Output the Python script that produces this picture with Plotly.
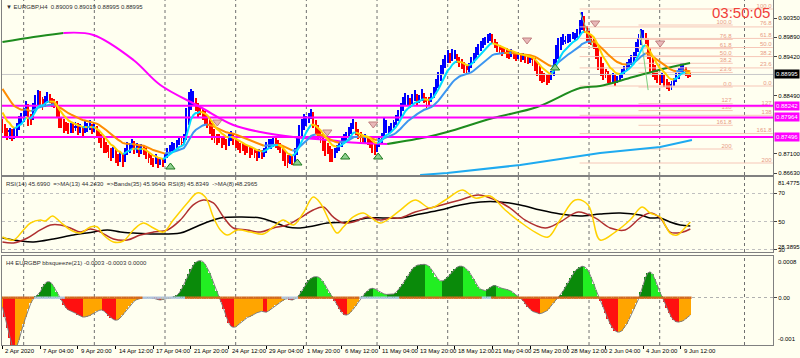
import plotly.graph_objects as go
from plotly.subplots import make_subplots

# ---------------- data ----------------
closes = [
 0.8771,0.87614,0.87518,0.87662,0.8747,0.87566,0.87782,0.8795,0.87902,0.88142,
 0.88262,0.87854,0.8795,0.88262,0.8843,0.88574,0.88382,0.88262,0.8843,0.88502,
 0.88382,0.8831,0.88334,0.88022,0.87782,0.87854,0.8771,0.87782,0.87662,0.87734,
 0.8771,0.87758,0.87662,0.8771,0.87614,0.87758,0.8771,0.87782,0.87686,0.87734,
 0.8759,0.8747,0.87374,0.8723,0.87278,0.87134,0.87062,0.87182,0.8699,0.86942,
 0.87062,0.86894,0.87182,0.87302,0.8723,0.87374,0.87182,0.87278,0.87134,0.87254,
 0.87182,0.87062,0.8699,0.86942,0.86894,0.8699,0.8687,0.86942,0.86894,0.87062,
 0.87182,0.8723,0.87302,0.87254,0.87374,0.87422,0.8735,0.8747,0.88142,0.88502,
 0.88574,0.88382,0.88262,0.88094,0.8819,0.88022,0.8795,0.87854,0.8771,0.87542,
 0.8747,0.87422,0.87494,0.8735,0.87422,0.87302,0.8747,0.87542,0.87422,0.8735,
 0.87302,0.8723,0.87278,0.87182,0.8723,0.87134,0.87182,0.8711,0.87062,0.87134,
 0.87062,0.87182,0.87302,0.87374,0.87302,0.87422,0.8735,0.87302,0.8723,0.87062,
 0.86942,0.8687,0.8699,0.86942,0.87182,0.87422,0.8771,0.87854,0.8795,0.87902,
 0.88022,0.88094,0.87782,0.87662,0.87542,0.8747,0.87302,0.87182,0.8723,0.87134,
 0.87062,0.87182,0.8723,0.87302,0.87422,0.8747,0.87542,0.87662,0.87782,0.87854,
 0.87614,0.87542,0.8747,0.87422,0.87494,0.87422,0.8735,0.8723,0.87182,0.87302,
 0.87422,0.87542,0.87782,0.8771,0.87662,0.87782,0.87854,0.8795,0.88094,0.88262,
 0.88382,0.88454,0.88382,0.88334,0.8843,0.88502,0.88382,0.8843,0.88526,0.8843,
 0.88334,0.88382,0.88478,0.88622,0.88814,0.88982,0.8915,0.89294,0.8939,0.89462,
 0.89342,0.89534,0.89462,0.8939,0.89294,0.89222,0.8915,0.89102,0.89198,0.89342,
 0.89462,0.89582,0.8963,0.89726,0.89774,0.89822,0.8987,0.89918,0.89822,0.89702,
 0.8963,0.89582,0.89534,0.89582,0.8951,0.89462,0.89534,0.89462,0.89414,0.89462,
 0.8939,0.89438,0.8939,0.89342,0.8939,0.89342,0.89222,0.89102,0.88982,0.8891,
 0.88958,0.88862,0.8891,0.88982,0.89294,0.8963,0.89774,0.89822,0.8987,0.89822,
 0.89894,0.8987,0.89942,0.89918,0.8999,0.90182,0.90302,0.9011,0.89942,0.8987,
 0.89822,0.89702,0.89462,0.89222,0.89102,0.88982,0.89054,0.8891,0.88862,0.88958,
 0.88814,0.8891,0.88982,0.89054,0.8915,0.89222,0.89294,0.8939,0.89462,0.89702,
 0.8987,0.90014,0.89942,0.89822,0.89462,0.8915,0.89054,0.88982,0.8891,0.88862,
 0.88958,0.88814,0.88742,0.8867,0.88766,0.88862,0.88982,0.89102,0.89222,0.8915,
 0.89054,0.89006,0.88995]

# bar highs / lows in units of 0.0001
highs_e4 = [
 8792,8780,8770,8772,8768,8770,8784,8800,8806,8818, 8835,8828,8805,8832,8850,8862,8860,8845,8848,8858,
 8852,8842,8840,8836,8806,8795,8790,8786,8782,8784, 8784,8786,8782,8780,8776,8788,8784,8790,8780,8784,
 8776,8762,8752,8740,8738,8730,8718,8726,8720,8706, 8714,8708,8724,8738,8734,8744,8740,8734,8730,8732,
 8730,8722,8712,8706,8700,8708,8702,8700,8698,8712, 8724,8730,8738,8736,8742,8750,8746,8756,8820,8858,
 8864,8860,8842,8830,8826,8820,8808,8800,8790,8774, 8760,8752,8756,8752,8750,8745,8756,8764,8758,8748,
 8742,8736,8736,8732,8730,8726,8726,8722,8716,8720, 8718,8724,8738,8745,8744,8750,8748,8742,8736,8726,
 8710,8700,8706,8704,8724,8748,8778,8792,8804,8800, 8808,8816,8810,8784,8772,8762,8752,8736,8734,8728,
 8718,8724,8730,8738,8748,8756,8762,8774,8784,8792, 8786,8766,8758,8752,8756,8752,8748,8740,8730,8736,
 8746,8760,8796,8790,8776,8784,8790,8802,8814,8832, 8846,8856,8850,8842,8852,8862,8852,8850,8864,8856,
 8845,8846,8856,8870,8888,8906,8922,8936,8946,8958, 8950,8960,8958,8948,8940,8932,8926,8920,8926,8942,
 8952,8966,8972,8980,8986,8990,8996,9000,8996,8984, 8976,8968,8966,8966,8962,8956,8960,8956,8952,8954,
 8952,8950,8948,8944,8946,8942,8938,8926,8914,8904, 8904,8898,8900,8908,8936,8970,8986,8990,8996,8992,
 8996,8996,9002,9000,9008,9030,9049,9040,9012,8998, 8994,8986,8974,8950,8928,8914,8912,8906,8898,8902,
 8898,8896,8904,8912,8920,8930,8936,8946,8954,8978, 8996,9008,9006,8998,8986,8950,8920,8912,8904,8898,
 8902,8898,8886,8878,8884,8892,8904,8916,8928,8926, 8918,8910,8904]
lows_e4 = [
 8758,8750,8742,8745,8740,8744,8752,8770,8778,8786, 8806,8776,8778,8790,8818,8836,8826,8815,8822,8832,
 8830,8822,8820,8795,8770,8770,8760,8765,8756,8760, 8760,8764,8755,8760,8752,8758,8762,8766,8756,8762,
 8748,8736,8722,8710,8712,8700,8692,8700,8686,8680, 8690,8678,8690,8712,8710,8720,8708,8712,8702,8708,
 8706,8696,8688,8682,8678,8684,8676,8682,8678,8686, 8700,8710,8716,8716,8722,8730,8726,8732,8742,8808,
 8840,8826,8812,8798,8802,8790,8780,8770,8756,8742, 8735,8730,8736,8724,8730,8718,8728,8740,8730,8722,
 8718,8712,8716,8706,8710,8700,8706,8698,8692,8700, 8696,8702,8712,8722,8720,8726,8724,8718,8710,8692,
 8680,8674,8684,8682,8690,8714,8738,8764,8778,8776, 8784,8792,8770,8756,8742,8734,8716,8704,8708,8690,
 8690,8700,8710,8716,8726,8736,8740,8750,8760,8770, 8754,8744,8736,8732,8736,8730,8724,8712,8706,8714,
 8726,8738,8748,8760,8756,8762,8772,8780,8792,8806, 8822,8832,8826,8820,8828,8836,8826,8830,8836,8830,
 8820,8826,8834,8846,8858,8878,8894,8910,8924,8932, 8926,8932,8936,8928,8918,8912,8904,8898,8906,8916,
 8928,8940,8950,8958,8964,8970,8974,8980,8974,8962, 8954,8950,8944,8948,8940,8936,8942,8936,8932,8936,
 8930,8934,8928,8924,8928,8920,8908,8896,8884,8878, 8882,8874,8880,8886,8896,8928,8960,8970,8974,8972,
 8976,8978,8984,8982,8986,8996,9014,9000,8980,8972, 8970,8960,8936,8910,8896,8886,8892,8880,8876,8882,
 8872,8878,8886,8892,8900,8910,8916,8926,8934,8942, 8964,8980,8984,8972,8936,8906,8894,8886,8880,8874,
 8878,8870,8864,8860,8862,8872,8884,8896,8906,8902, 8896,8892,8894]

ha_open_seed = 0.8790
fast_seed = 0.8819
slow_seed = 0.88742
fast_period = 8
slow_period = 21

bbsq_e4 = [
 -2,-4,-6.5,-8.5,-10,-11,-10.5,-9,-7,-5.5,-4,-2.5,-1.2,-0.3,
 0.2,0.5,1.2,2.2,3.0,3.4,3.4,3.0,2.2,1.2,0.4,
 -0.5,-1.5,-2.2,-2.6,-2.8,-3.0,-3.3,-3.6,-3.9,-4.1,-4.1,-4.0,-3.8,-3.5,-3.2,-2.9,-2.7,-2.6,
 -2.8,-3.3,-3.8,-4.3,-4.6,-4.8,-4.7,-4.3,-3.7,-3.0,-2.3,-1.7,-1.1,-0.7,-0.4,-0.2,-0.1,0,
 0.05,0.05,0,-0.1,-0.3,-0.4,-0.5,-0.4,-0.3,-0.2,-0.1,0,0.2,0.5,
 1.0,1.8,2.8,3.9,5.0,6.0,6.9,7.5,7.8,7.9,7.7,7.2,6.4,5.3,4.0,2.7,1.4,0.4,
 -1.0,-2.5,-4.0,-5.3,-6.1,-6.3,-6.2,-5.8,-5.3,-4.9,-4.5,-4.2,-4.0,-3.8,-3.5,-3.2,-3.0,-2.9,
 -3.0,-3.1,-2.8,-2.4,-2.0,-1.6,-1.3,-1.0,-0.6,-0.3,
 -0.2,-0.4,-0.5,-0.3,0,
 0.6,1.4,2.3,3.1,3.7,4.1,4.4,4.5,4.4,4.1,3.5,2.7,1.8,1.0,0.3,
 -0.6,-1.5,-2.4,-3.1,-3.6,-3.7,-3.5,-3.0,-2.4,-1.7,-1.0,-0.3,
 0.4,1.0,1.5,1.9,2.0,1.9,1.6,1.3,1.0,0.8,0.7,0.7,0.7,0.8,1.1,1.6,
 2.3,3.0,3.8,4.6,5.4,6.1,6.6,6.9,7.0,7.1,7.1,7.0,6.7,6.1,5.3,4.5,3.9,3.6,3.6,3.9,
 4.4,5.0,5.6,6.1,6.5,6.7,6.7,6.5,6.1,5.6,4.8,3.9,3.0,2.3,1.8,1.6,1.5,1.8,2.2,2.5,
 2.6,2.4,2.1,2.0,1.9,1.8,1.6,1.4,1.0,0.6,0.2,-0.1,
 -0.6,-1.3,-2.0,-2.5,-2.9,-3.1,-3.3,-3.4,-3.3,-3.1,-2.8,-2.3,-1.7,-1.1,-0.5,0,
 0.6,1.4,2.3,3.2,4.1,4.9,5.6,6.1,6.5,6.7,6.6,6.2,5.4,4.3,3.0,1.6,0.4,
 -0.8,-2.0,-3.3,-4.5,-5.6,-6.4,-7.0,-7.3,-7.3,-7.0,-6.4,-5.6,-4.6,-3.5,-2.3,-1.2,-0.3,
 1.2,2.8,4.3,5.3,5.5,5.0,4.0,2.7,1.3,0.2,
 -1.0,-2.2,-3.3,-4.2,-4.8,-5.1,-5.2,-5.1,-4.9,-4.5,-4.1,-3.7]

squeeze_start = [14, 60, 119, 152, 204]
squeeze_end = [26, 77, 125, 168, 207]

lma_i = [0,13.2,25.9,38.6,55.6,67.0,84.0,98.0,109.5,123.5,137.9,151.9,163.3,180.3,188.8,
         208.3,227.0,245.2,253.7,267.7,282.1,291.9]
lma_v = [0.89774,0.89894,0.8999,0.89942,0.89342,0.88742,0.88214,0.87782,0.87614,0.87494,
         0.87422,0.8735,0.87326,0.87494,0.87614,0.8795,0.88214,0.8867,0.88718,0.88934,0.8915,0.8927]

sky_i = [177.3,188.8,219.8,253.7,279.2,292.7]
sky_v = [0.86582,0.8663,0.86822,0.8711,0.87254,0.87422]

# thin zigzag legs (start/end bar, start/end price)
zz_i0 = [245.2, 270.7]
zz_i1 = [250.7, 274.1]
zz_p0 = [0.9049, 0.9006]
zz_p1 = [0.8965, 0.8862]

hlines = [0.88242, 0.87964, 0.87496]
bid_price = 0.88995

fib_levels = ["100.0","76.8","61.8","50.0","38.2","23.6","0.0","127","138","161.8","200"]
fib1_prices = [0.90182,0.89836,0.89613,0.89438,0.89263,0.89044,0.88694,0.88293,0.88128,0.87775,0.87206]
fib1_span = [270, 310]
fib2_prices = [0.90566,0.90136,0.8986,0.89642,0.89424,0.89152,0.88718,0.88219,0.88015,0.87576,0.8687]
fib2_span = [245, 327]

up_i = [71.3,125.2,145.5,159.5,234.6]
up_p = [0.86774,0.8687,0.87014,0.87014,0.8915]
dn_i = [91.2,137.9,157.4,222.7,251.6,279.2]
dn_p = [0.87854,0.87614,0.87806,0.89822,0.9023,0.8975]

yel_i = [0,4.7,8.9,11.9,16.1,18.2,21.2,24.6,28.8,33.1,37.3,40.3,42.9,47.1,51.3,55.6,59.8,64.1,
         68.3,72.5,78.5,82.7,86.1,89.5,92.5,95.5,99.7,105.2,110.7,115.0,119.2,123.5,127.7,131.9,
         134.9,139.2,142.1,144.7,148.9,153.2,156.1,160.4,164.6,168.9,175.2,181.6,188,195.2,200.7,
         207,213.4,219.8,226.1,231.6,236.7,243.1,248.6,253.7,260.1,266.4,271.5,274.9,279.2,281.3,
         283.4,286.4,288.9,292]
yel_v = [39.0,36.9,44.0,48.9,51.0,50.3,53.9,49.6,44.0,41.8,46.1,46.1,40.4,35.5,36.2,44.0,48.9,
         45.4,42.5,51.0,63.1,70.2,67.3,53.2,44.0,40.4,44.0,42.5,41.1,46.1,51.0,47.5,56.0,67.3,
         63.1,48.9,41.8,46.1,53.2,56.0,53.2,48.9,52.5,58.1,65.2,59.5,65.2,72.3,66.6,68.0,58.1,
         49.6,42.5,39.0,51.0,65.2,61.7,36.9,42.5,51.0,60.2,56.0,53.2,47.5,41.8,40.4,44.0,49.6]
red_i = [0,4.7,10.6,16.1,20.4,24.6,28.8,33.1,37.3,41.6,47.1,53.0,58.5,64.1,70.0,75.5,81.0,85.3,
         89.5,93.8,98.0,103.9,109.5,115.0,120.9,126.4,131.9,136.2,140.4,144.7,148.9,154.9,160.4,
         164.6,168.9,175.2,181.6,188,194.3,202,209.2,215.5,221.9,230.4,236.7,244.4,251.6,258,
         264.3,270.7,274.9,279.2,283.4,286.4,288.9,292]
red_v = [35.5,34.8,38.3,44.0,47.5,47.5,45.4,42.5,44.7,42.5,37.6,36.9,40.4,42.5,44.0,51.0,61.7,
         65.2,63.1,53.2,45.4,44.0,42.5,45.4,47.5,52.5,58.1,60.2,53.2,48.9,49.6,53.2,51.0,52.5,
         52.5,56.7,59.5,62.4,65.2,68.7,65.2,59.5,51.0,45.4,49.6,56.7,52.5,45.4,44.0,52.5,56.0,
         52.5,42.5,41.8,42.5,44.7]
blk_i = [0,7.6,13.2,21.6,30.1,38.6,44.5,50.1,55.6,64.1,75.5,81.0,87.0,92.5,101.0,109.5,115.0,
         120.9,126.4,131.9,137.9,146.4,154.9,161.6,168.9,177.3,185.8,194.3,202.8,211.3,219.8,
         228.3,236.7,245.2,253.7,262.2,270.7,274.9,279.2,283.4,287.7,292]
blk_v = [38.3,36.2,35.5,37.6,40.4,42.5,44.0,42.5,41.8,41.1,41.8,45.4,49.6,52.5,53.2,52.5,49.6,
         46.1,45.4,46.8,48.9,49.6,52.5,52.5,52.5,55.3,58.1,61.7,63.8,63.8,61.7,58.1,55.3,53.9,
         55.3,56.0,54.6,52.5,52.5,49.6,47.5,46.8]

date_labels = ["2 Apr 2020","7 Apr 04:00","9 Apr 20:00","14 Apr 12:00","17 Apr 04:00",
               "21 Apr 20:00","24 Apr 12:00","29 Apr 04:00","1 May 20:00","6 May 12:00",
               "11 May 04:00","13 May 20:00","18 May 12:00","21 May 04:00","25 May 20:00",
               "28 May 12:00","2 Jun 04:00","4 Jun 20:00","9 Jun 12:00"]
date_idx = [16 * k for k in range(len(date_labels))]
week_starts = [9, 39, 69, 99, 129, 159, 189, 219, 249, 279, 315]

price_ticks = [0.90350, 0.89890, 0.89420, 0.88490, 0.87100, 0.86630]

# ---------------- derived ----------------
n = len(closes)
idx = list(range(n))
highs = [h / 1e4 for h in highs_e4]
lows = [l / 1e4 for l in lows_e4]
ha_open = []
prev_o, prev_c = ha_open_seed, closes[0]
for i in range(n):
    o = ha_open_seed if i == 0 else (prev_o + prev_c) / 2
    ha_open.append(o)
    prev_o, prev_c = o, closes[i]

def ema(vals, period, seed):
    a = 2 / (period + 1)
    e = seed
    out = []
    for v in vals:
        e = e + a * (v - e)
        out.append(e)
    return out

fast = ema(closes, fast_period, fast_seed)
slow = ema(closes, slow_period, slow_seed)

BG = "#FFFFF0"
FONT = "Liberation Sans"

fig = make_subplots(rows=3, cols=1, shared_xaxes=True, vertical_spacing=0.01)

def colored_line(xs, ys, up_col, dn_col, width, row, shape="linear"):
    segs = {True: ([], []), False: ([], [])}
    run_dir = None
    run = []
    for k in range(1, len(xs)):
        d = ys[k] >= ys[k - 1]
        if d != run_dir:
            if run:
                segs[run_dir][0].extend([xs[j] for j in run] + [None])
                segs[run_dir][1].extend([ys[j] for j in run] + [None])
            run = [k - 1, k]
            run_dir = d
        else:
            run.append(k)
    if run:
        segs[run_dir][0].extend([xs[j] for j in run] + [None])
        segs[run_dir][1].extend([ys[j] for j in run] + [None])
    for d, col in ((True, up_col), (False, dn_col)):
        fig.add_trace(go.Scatter(x=segs[d][0], y=segs[d][1], mode="lines",
                                 line=dict(color=col, width=width, shape=shape),
                                 hoverinfo="skip"), row=row, col=1)

# fib lines
for prices, span in ((fib1_prices, fib1_span), (fib2_prices, fib2_span)):
    fx, fy = [], []
    for p in prices:
        fx += [span[0], span[1], None]
        fy += [p, p, None]
    fig.add_trace(go.Scatter(x=fx, y=fy, mode="lines", line=dict(color="#F6C7B8", width=1),
                             hoverinfo="skip"), row=1, col=1)
    fig.add_trace(go.Scatter(x=[span[1] - 0.5] * len(prices), y=prices, mode="text",
                             text=fib_levels, textposition="top left",
                             textfont=dict(family=FONT, size=6, color="#E89A84"),
                             hoverinfo="skip"), row=1, col=1)

# bid line
fig.add_trace(go.Scatter(x=[-1, 330], y=[bid_price, bid_price], mode="lines",
                         line=dict(color="#C8C8C8", width=1), hoverinfo="skip"), row=1, col=1)

# long MAs
colored_line(lma_i, lma_v, "#1E8C1E", "#FF00FF", 2, 1, "spline")
fig.add_trace(go.Scatter(x=sky_i, y=sky_v, mode="lines", line=dict(color="#1EAAF0", width=2),
                         hoverinfo="skip"), row=1, col=1)

# horizontal magenta lines
for p in hlines:
    fig.add_trace(go.Scatter(x=[-1, 330], y=[p, p], mode="lines",
                             line=dict(color="#FF00FF", width=2), hoverinfo="skip"), row=1, col=1)

# zigzag legs
zx, zy = [], []
for a, b, pa, pb in zip(zz_i0, zz_i1, zz_p0, zz_p1):
    zx += [a, b, None]
    zy += [pa, pb, None]
fig.add_trace(go.Scatter(x=zx, y=zy, mode="lines", line=dict(color="#7CCD7C", width=1),
                         hoverinfo="skip"), row=1, col=1)

# candles (Heiken-Ashi style): wick + body
ccol = ["#0000FF" if c >= o else "#FF0000" for o, c in zip(ha_open, closes)]
wlo = [min(l, o, c) for l, o, c in zip(lows, ha_open, closes)]
whi = [max(h, o, c) for h, o, c in zip(highs, ha_open, closes)]
fig.add_trace(go.Bar(x=idx, y=[h - l for h, l in zip(whi, wlo)], base=wlo,
                     marker=dict(color=ccol, line=dict(width=0)), width=0.4,
                     hoverinfo="skip"), row=1, col=1)
base = [min(o, c) for o, c in zip(ha_open, closes)]
hgt = [max(abs(c - o), 0.00012) for o, c in zip(ha_open, closes)]
fig.add_trace(go.Bar(x=idx, y=hgt, base=base, marker=dict(color=ccol, line=dict(width=0)),
                     width=0.85, hoverinfo="skip"), row=1, col=1)

# short MAs
colored_line(idx, slow, "#3C96F0", "#FF8C00", 2, 1)
colored_line(idx, fast, "#00DCFF", "#FFD000", 2, 1)

# arrows
fig.add_trace(go.Scatter(x=up_i, y=up_p, mode="markers",
                         marker=dict(symbol="triangle-up", size=8, color="#8FD08F",
                                     line=dict(color="#1E7A1E", width=1)),
                         hoverinfo="skip"), row=1, col=1)
fig.add_trace(go.Scatter(x=dn_i, y=dn_p, mode="markers",
                         marker=dict(symbol="triangle-down", size=8, color="#E8B8B8",
                                     line=dict(color="#C08080", width=1)),
                         hoverinfo="skip"), row=1, col=1)

# RSI panel
fig.add_trace(go.Scatter(x=blk_i, y=blk_v, mode="lines", line=dict(color="#000000", width=1.5, shape="spline"),
                         hoverinfo="skip"), row=2, col=1)
fig.add_trace(go.Scatter(x=red_i, y=red_v, mode="lines", line=dict(color="#B03030", width=1.5, shape="spline"),
                         hoverinfo="skip"), row=2, col=1)
fig.add_trace(go.Scatter(x=yel_i, y=yel_v, mode="lines", line=dict(color="#FFD200", width=1.5, shape="spline"),
                         hoverinfo="skip"), row=2, col=1)

# bbsqueeze panel
bb = [v * 1e-4 for v in bbsq_e4]
bcol = []
for i, v in enumerate(bb):
    pv = bb[i - 1] if i > 0 else v
    if v >= 0:
        bcol.append("#0A8A0A" if v >= pv else "#22EE22")
    else:
        bcol.append("#FF1010" if v < pv else "#FFA500")
fig.add_trace(go.Bar(x=idx, y=bb, marker=dict(color=bcol, line=dict(width=0)), width=0.8,
                     hoverinfo="skip"), row=3, col=1)
fig.add_trace(go.Scatter(x=idx, y=bb, mode="lines", line=dict(color="#808080", width=1),
                         hoverinfo="skip"), row=3, col=1)
sq = ["#B0C4DE" if any(s <= i <= e for s, e in zip(squeeze_start, squeeze_end)) else "#D2691E"
      for i in idx]
fig.add_trace(go.Scatter(x=idx, y=[0] * n, mode="markers",
                         marker=dict(symbol="square", size=2.4, color=sq, line=dict(width=0)),
                         hoverinfo="skip"), row=3, col=1)

# ---------------- layout ----------------
H = 345.0
dom_main = [1 - 175 / H, 1]
dom_rsi = [1 - 252 / H, 1 - 177 / H]
dom_bb = [0, 1 - 256 / H]

fig.update_layout(width=800, height=358, margin=dict(l=2, r=27, t=0, b=13),
                  paper_bgcolor=BG, plot_bgcolor=BG, showlegend=False,
                  barmode="overlay", bargap=0,
                  font=dict(family=FONT, size=6, color="#000000"))

xr = [-0.2, 327.1]
for k, name in enumerate(["xaxis", "xaxis2", "xaxis3"]):
    fig.layout[name].update(range=xr, showgrid=False, zeroline=False, showline=True, mirror=True,
                            linecolor="#808080", linewidth=1, showticklabels=False,
                            tickvals=date_idx, ticks="outside" if k == 2 else "",
                            ticklen=3, tickcolor="#000000")

fig.update_layout(
    yaxis=dict(domain=dom_main, range=[0.86582, 0.90782], side="right", tickvals=price_ticks,
               ticktext=["%.5f" % p for p in price_ticks], ticks="outside", ticklen=3,
               showgrid=False, zeroline=False, showline=True, mirror=True, linecolor="#808080",
               tickfont=dict(size=6)),
    yaxis2=dict(domain=dom_rsi, range=[28.3895, 81.4775], side="right", tickvals=[70, 50, 30],
                ticktext=["70", "50", "30"], ticks="outside", ticklen=3, showgrid=True,
                gridcolor="#C0C0C0", griddash="dot", zeroline=False, showline=True, mirror=True,
                linecolor="#808080", tickfont=dict(size=6)),
    yaxis3=dict(domain=dom_bb, range=[-0.001006, 0.000887], side="right", tickvals=[0],
                ticktext=["0.00"], ticks="outside", ticklen=3, showgrid=True,
                gridcolor="#B0B0B0", griddash="dot", zeroline=False, showline=True, mirror=True,
                linecolor="#808080", tickfont=dict(size=6)),
)

shapes = []
for w in week_starts:
    for yr in ("y domain", "y2 domain", "y3 domain"):
        shapes.append(dict(type="line", xref="x", x0=w, x1=w, yref=yr, y0=0, y1=1,
                           line=dict(color="#707070", width=1, dash="dot"), layer="below"))
fig.update_layout(shapes=shapes)

ann = []
for d, t in zip(date_idx, date_labels):
    ann.append(dict(x=d, xref="x3", y=0, yref="paper", yanchor="top", xanchor="left",
                    text=t, showarrow=False, font=dict(size=6), yshift=-1, xshift=1))
ann.append(dict(x=1, xref="paper", y=bid_price, yref="y", xanchor="left", text="%.5f" % bid_price,
                showarrow=False, bgcolor="#000000", font=dict(size=6, color="#FFFFFF"),
                borderpad=1, xshift=1))
for p in hlines:
    ann.append(dict(x=1, xref="paper", y=p, yref="y", xanchor="left", text="%.5f" % p,
                    showarrow=False, bgcolor="#FF00FF", font=dict(size=6, color="#FFFFFF"),
                    borderpad=1, xshift=1))
ann.append(dict(x=1, xref="paper", y=dom_rsi[1], yref="paper", xanchor="left", yanchor="top",
                text="81.4775", showarrow=False, font=dict(size=6), xshift=3, yshift=-1))
ann.append(dict(x=1, xref="paper", y=dom_rsi[0], yref="paper", xanchor="left", yanchor="bottom",
                text="28.3895", showarrow=False, font=dict(size=6), xshift=3, yshift=0))
ann.append(dict(x=1, xref="paper", y=dom_bb[1], yref="paper", xanchor="left", yanchor="top",
                text="0.0008", showarrow=False, font=dict(size=6), xshift=3, yshift=-1))
ann.append(dict(x=1, xref="paper", y=dom_bb[0], yref="paper", xanchor="left", yanchor="bottom",
                text="-0.001", showarrow=False, font=dict(size=6), xshift=3, yshift=1))
ann.append(dict(x=0, xref="paper", y=dom_main[1], yref="paper", xanchor="left", yanchor="top",
                text="▼ EURGBP,H4  0.89009 0.89019 0.88995 0.88995", showarrow=False,
                font=dict(size=6, color="#303030"), xshift=2, yshift=-2))
ann.append(dict(x=0, xref="paper", y=dom_rsi[1], yref="paper", xanchor="left", yanchor="top",
                text="RSI(14) 45.6990  =>MA(13) 44.2430  =>Bands(35) 45.9640  RSI(8) 45.8349  ->MA(8) 48.2965",
                showarrow=False, font=dict(size=6, color="#303030"), xshift=2, yshift=-2))
ann.append(dict(x=0, xref="paper", y=dom_bb[1], yref="paper", xanchor="left", yanchor="top",
                text="H4 EURGBP bbsqueeze(21) -0.0003 -0.0003 0.0000",
                showarrow=False, font=dict(size=6, color="#303030"), xshift=2, yshift=-2))
ann.append(dict(x=(741 - 2) / 771.0, xref="paper", y=1 - 12 / H, yref="paper",
                xanchor="center", yanchor="middle",
                text="03:50:05", showarrow=False, font=dict(size=15, color="#F0403A")))
fig.update_layout(annotations=ann)

fig.write_html("out.html", config={"displayModeBar": False},
               post_script="document.body.style.margin='0';document.body.style.overflow='hidden';")
